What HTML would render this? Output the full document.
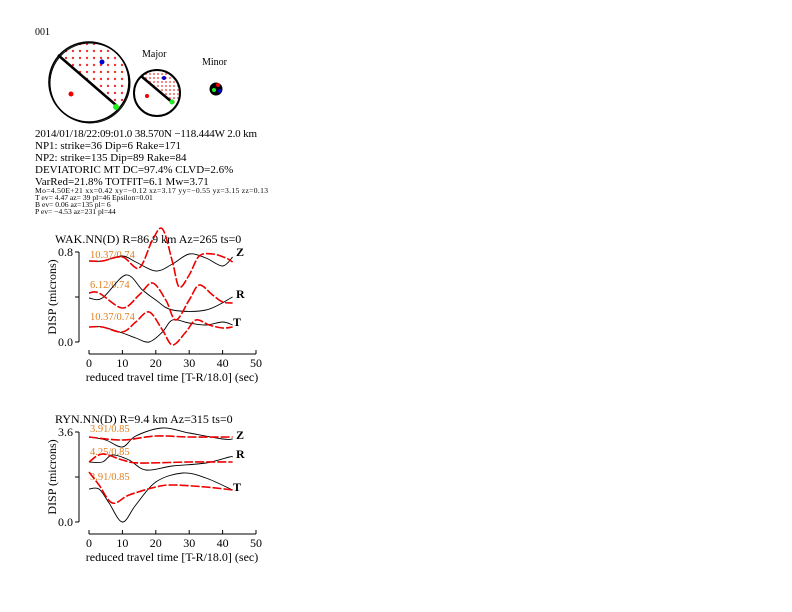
<!DOCTYPE html>
<html><head><meta charset="utf-8"><style>
body{margin:0;background:#fff}
svg{display:block}
text{font-family:"Liberation Serif",serif;fill:#000}
</style></head><body>
<svg id="s" width="792" height="612" viewBox="0 0 792 612" xmlns="http://www.w3.org/2000/svg">
<text x="35" y="35" font-size="10">001</text>
<clipPath id="c1"><circle cx="89" cy="82" r="40"/></clipPath>
<g id="dots1" clip-path="url(#c1)" fill="#e33"></g>
<circle cx="89" cy="82" r="40" fill="none" stroke="#000" stroke-width="1.6"/>
<circle cx="90" cy="83" r="40" fill="none" stroke="#000" stroke-width="1"/>
<line x1="58" y1="55" x2="117" y2="106" stroke="#000" stroke-width="2.5"/>
<circle cx="71" cy="94" r="2.5" fill="#e00"/>
<circle cx="102" cy="62" r="2.5" fill="#00c"/>
<circle cx="116" cy="107" r="3" fill="#2e2"/>
<clipPath id="c2"><circle cx="157" cy="93" r="23"/></clipPath>
<g id="dots2" clip-path="url(#c2)" fill="#e33"></g>
<circle cx="157" cy="93" r="23" fill="none" stroke="#000" stroke-width="2"/>
<line x1="141" y1="76" x2="173" y2="103" stroke="#000" stroke-width="2.5"/>
<circle cx="147" cy="96" r="2" fill="#e00"/>
<circle cx="164" cy="78" r="2" fill="#00c"/>
<circle cx="172" cy="102" r="2.5" fill="#2e2"/>
<text x="142" y="57" font-size="10">Major</text>
<text x="202" y="65" font-size="10">Minor</text>
<circle cx="216" cy="89" r="6.5" fill="#000"/>
<circle cx="218" cy="85" r="2" fill="#e00"/>
<circle cx="214" cy="90" r="2" fill="#2e2"/>
<circle cx="220" cy="91" r="2" fill="#00c"/>
<g font-size="11">
<text x="35" y="137" textLength="222">2014/01/18/22:09:01.0 38.570N −118.444W 2.0 km</text>
<text x="35" y="149">NP1: strike=36 Dip=6 Rake=171</text>
<text x="35" y="161">NP2: strike=135 Dip=89 Rake=84</text>
<text x="35" y="173">DEVIATORIC MT DC=97.4% CLVD=2.6%</text>
<text x="35" y="185">VarRed=21.8% TOTFIT=6.1 Mw=3.71</text>
</g>
<g font-size="7.6">
<text x="35" y="193" textLength="233">Mo=4.50E+21 xx=0.42 xy=−0.12 xz=3.17 yy=−0.55 yz=3.15 zz=0.13</text>
<text x="35" y="200">T ev=  4.47 az= 39 pl=46 Epsilon=0.01</text>
<text x="35" y="207">B ev=  0.06 az=135 pl= 6</text>
<text x="35" y="214">P ev= −4.53 az=231 pl=44</text>
</g>
<g id="axes" stroke="#000" stroke-width="1" fill="none"></g>
<g id="lab" font-size="12"></g>
<g id="tr" fill="none"></g>
</svg>
<script>
const NS="http://www.w3.org/2000/svg";
function el(p,t,a,txt){const e=document.createElementNS(NS,t);for(const k in a)e.setAttribute(k,a[k]);if(txt!==undefined)e.textContent=txt;document.getElementById(p).appendChild(e);return e;}
for(let x=52;x<130;x+=7)for(let y=44;y<124;y+=7){ if((x-58)*51-(y-55)*59>0){el('dots1','circle',{cx:x,cy:y,r:1.2});}}
for(let x=134;x<182;x+=4)for(let y=70;y<118;y+=4){ if((x-141)*27-(y-76)*32>0){el('dots2','circle',{cx:x,cy:y,r:0.9});}}
function X(t){return 89+t*3.34;}
function path(pts){let p=pts.map(a=>[X(a[0]),a[1]]);let d="M"+p[0][0]+","+p[0][1];for(let i=0;i<p.length-1;i++){const p0=p[i-1]||p[i],p1=p[i],p2=p[i+1],p3=p[i+2]||p2;d+=" C"+(p1[0]+(p2[0]-p0[0])/6)+","+(p1[1]+(p2[1]-p0[1])/6)+" "+(p2[0]-(p3[0]-p1[0])/6)+","+(p2[1]-(p3[1]-p1[1])/6)+" "+p2[0]+","+p2[1];}return d;}
function panel(y0,title,ytop,ax,lbls,blk,red){
 const yt=y0,yb=y0+90,yx=y0+102;
 el('axes','path',{d:`M79,${yt}V${yb} M75,${yt}H79 M75,${(yt+yb)/2}H79 M75,${yb}H79 M89,${yx}H256`});
 for(let i=0;i<=5;i++){el('axes','path',{d:`M${X(i*10)},${yx}V${yx-4}`});el('lab','text',{x:X(i*10),y:yx+13,'text-anchor':'middle'},String(i*10));}
 el('lab','text',{x:172,y:yx+27,'text-anchor':'middle'},'reduced travel time [T-R/18.0] (sec)');
 el('lab','text',{x:55,y:y0-9},title);
 el('lab','text',{x:73,y:yt+4,'text-anchor':'end'},ytop);
 el('lab','text',{x:73,y:yb+4,'text-anchor':'end'},'0.0');
 el('lab','text',{x:0,y:0,transform:`translate(56,${(yt+yb)/2}) rotate(-90)`,'text-anchor':'middle'},'DISP (microns)');
 ['Z','R','T'].forEach((c,i)=>{el('lab','text',{x:lbls[i][0],y:lbls[i][1],'font-weight':'bold','font-size':'12'},c);
  el('lab','text',{x:90,y:ax[i][1],'font-size':'10.5',style:'fill:#e08020'},ax[i][0]);});
 blk.forEach(b=>el('tr','path',{d:path(b),stroke:'#000','stroke-width':0.9}));
 red.forEach(b=>el('tr','path',{d:path(b),stroke:'#e00','stroke-width':1.6,'stroke-dasharray':'9,2'}));
}
panel(252,'WAK.NN(D) R=86.9 km  Az=265  ts=0','0.8',
 [['10.37/0.74',258],['6.12/0.74',288],['10.37/0.74',320]],[[236,256],[236,298],[233,326]],
 [[[0,261],[4,261],[10,256],[14,262],[20,271],[25,264],[30,254],[35,258],[40,266],[43,257]],
  [[0,298],[4,298],[11,275],[16,290],[20,300],[25,310],[35,310],[43,297]],
  [[0,327],[4,327],[10,333],[14,338],[18,342],[22,332],[25,320],[30,323],[35,325],[40,322],[43,325]]],
 [[[0,261],[4,261],[10,257],[15,268],[19,240],[22,229],[25,262],[27,287],[30,275],[33,256],[37,254],[41,258],[43,262]],
  [[0,293],[3,293],[10,308],[15,295],[19,283],[23,300],[26,320],[30,300],[33,285],[37,295],[40,302],[43,303]],
  [[0,327],[4,327],[10,332],[14,322],[18,312],[22,330],[25,345],[29,332],[32,320],[36,325],[40,328],[43,327]]]);
panel(432,'RYN.NN(D) R=9.4 km  Az=315  ts=0','3.6',
 [['3.91/0.85',432],['4.25/0.85',455],['3.91/0.85',480]],[[236,439],[236,458],[233,491]],
 [[[0,437],[5,440],[10,447],[14,436],[22,428],[30,433],[40,439],[43,439]],
  [[0,462],[4,462],[7,455],[12,460],[17,470],[25,466],[35,463],[42,457],[43,457]],
  [[0,489],[3,489],[6,503],[10,522],[14,505],[20,482],[28,473],[35,478],[43,490]]],
 [[[0,437],[10,440],[20,436],[30,437],[43,437]],
  [[0,462],[4,454],[10,460],[15,463],[30,462],[43,462]],
  [[0,472],[3,485],[7,503],[12,495],[20,487],[25,485],[35,487],[43,490]]]);
</script>
</body></html>
